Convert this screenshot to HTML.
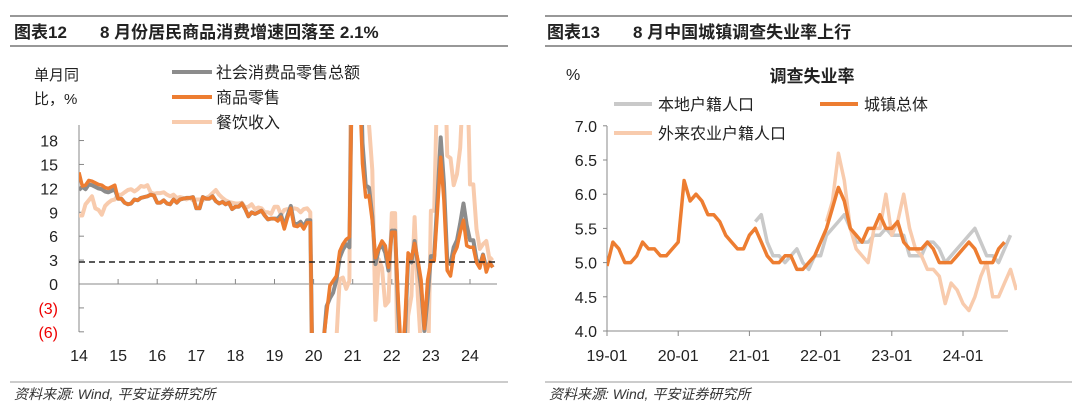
<!DOCTYPE html>
<html><head><meta charset="utf-8"><style>
html,body{margin:0;padding:0;background:#fff;width:1080px;height:420px;overflow:hidden}
svg{display:block}
svg text{font-family:"Liberation Sans","Noto Sans CJK SC",sans-serif}
</style></head><body>
<svg id="s" width="1080" height="420" xmlns="http://www.w3.org/2000/svg">
<defs>
<clipPath id="cl"><rect x="79" y="125" width="420" height="208"/></clipPath>
<clipPath id="cr"><rect x="607" y="120" width="410" height="215"/></clipPath>
</defs>
<line x1="10" y1="16" x2="508" y2="16" stroke="#777" stroke-width="1.5"/>
<line x1="10" y1="46" x2="508" y2="46" stroke="#777" stroke-width="1.5"/>
<line x1="545" y1="16" x2="1072" y2="16" stroke="#777" stroke-width="1.5"/>
<line x1="545" y1="46" x2="1072" y2="46" stroke="#777" stroke-width="1.5"/>
<text x="14" y="38" font-size="17" font-weight="bold" fill="#222">图表12</text>
<text x="100" y="38" font-size="17" font-weight="bold" fill="#222">8 月份居民商品消费增速回落至 2.1%</text>
<text x="547" y="38" font-size="17" font-weight="bold" fill="#222">图表13</text>
<text x="633" y="38" font-size="17" font-weight="bold" fill="#222">8 月中国城镇调查失业率上行</text>
<line x1="10" y1="382" x2="508" y2="382" stroke="#999" stroke-width="1"/>
<line x1="545" y1="382" x2="1072" y2="382" stroke="#999" stroke-width="1"/>
<text x="14" y="399" font-size="14" font-style="italic" fill="#333">资料来源: Wind, 平安证券研究所</text>
<text x="549" y="399" font-size="14" font-style="italic" fill="#333">资料来源: Wind, 平安证券研究所</text>
<text x="34" y="80" font-size="15" fill="#222">单月同</text>
<text x="34" y="104" font-size="15" fill="#222">比，%</text>
<line x1="172" y1="72" x2="212" y2="72" stroke="#8c8c8c" stroke-width="4"/>
<line x1="172" y1="97" x2="212" y2="97" stroke="#ed7d31" stroke-width="4"/>
<line x1="172" y1="122" x2="212" y2="122" stroke="#f8cbad" stroke-width="4"/>
<text x="216" y="78" font-size="16" fill="#222">社会消费品零售总额</text>
<text x="216" y="103" font-size="16" fill="#222">商品零售</text>
<text x="216" y="128" font-size="16" fill="#222">餐饮收入</text>
<text x="566" y="80" font-size="16" fill="#222">%</text>
<text x="812" y="82" font-size="17" font-weight="bold" fill="#222" text-anchor="middle">调查失业率</text>
<line x1="614" y1="104" x2="652" y2="104" stroke="#c9c9c9" stroke-width="4"/>
<line x1="820" y1="104" x2="858" y2="104" stroke="#ed7d31" stroke-width="4"/>
<line x1="614" y1="133" x2="652" y2="133" stroke="#f8cbad" stroke-width="4"/>
<text x="658" y="110" font-size="16" fill="#222">本地户籍人口</text>
<text x="864" y="110" font-size="16" fill="#222">城镇总体</text>
<text x="658" y="139" font-size="16" fill="#222">外来农业户籍人口</text>
<g id="g"></g>
</svg>
<script>
var g=document.getElementById('g'),h='';
function L(x1,y1,x2,y2,st){h+='<line x1="'+x1+'" y1="'+y1+'" x2="'+x2+'" y2="'+y2+'" '+st+'/>';}
function T(x,y,t,a,c){h+='<text x="'+x+'" y="'+y+'" font-size="16" text-anchor="'+a+'" fill="'+(c||'#222')+'">'+t+'</text>';}
function P(pts,col,w,clip){h+='<polyline clip-path="url(#'+clip+')" fill="none" stroke="'+col+'" stroke-width="'+w+'" stroke-linejoin="round" points="'+pts.join(' ')+'"/>';}
var lx=function(m){return 79+m*39.1/12},ly=function(v){return 284-v*7.97};
L(79,125,79,332,'stroke="#888"');L(79,284,497,284,'stroke="#888"');
[18,15,12,9,6,3,0,-3,-6].forEach(function(v){var y=ly(v);L(79,y,84,y,'stroke="#888"');T(58,y+6,v<0?'('+(-v)+')':v,'end',v<0?'#e00':'#222');});
for(var i=0;i<=10;i++){var x=lx(i*12);if(i>0)L(x,284,x,279,'stroke="#888"');T(x,361,14+i,'middle');}
var tot=[11.8,12.2,11.9,12.5,12.4,12.2,12.0,11.9,11.6,11.5,11.7,11.9,
10.7,10.7,10.2,10.0,10.1,10.6,10.5,10.8,10.9,11.0,11.2,11.1,
10.2,10.2,10.5,10.1,10.0,10.6,10.2,10.6,10.7,10.8,10.8,10.9,
9.5,9.5,10.9,10.7,10.7,11.0,10.4,10.1,10.3,10.0,10.2,9.4,
9.7,9.7,10.1,9.4,8.5,9.0,8.8,9.0,9.2,8.6,8.1,8.2,
8.2,8.2,8.7,7.2,8.6,9.8,7.6,7.5,7.8,7.2,8.0,8.0,
-20.5,-20.5,-15.8,-7.5,-2.8,-1.8,-1.1,0.5,3.3,4.3,5.0,4.6,
33.8,33.8,34.2,17.7,12.4,12.1,8.5,2.5,4.4,4.9,3.9,1.7,
6.7,6.7,-3.5,-11.1,-6.7,3.1,2.7,5.4,2.5,-0.5,-5.9,-1.8,
3.5,3.5,10.6,18.4,12.7,3.1,2.5,4.6,5.5,7.6,10.1,7.4,
5.5,5.5,3.1,2.3,3.7,2.0,2.7,2.1];
var com=tot.slice();
for(var i=0;i<72;i++)com[i]=tot[i]+(i<12?0.5:0)-(i>60?0.3:0);
com[0]=14;com[1]=12.3;
var c2=[-20.6,-20.6,-15.8,-7.1,-3.7,-0.2,0.4,1.0,4.1,5.0,5.6,5.9,
30.7,30.7,25.9,15.1,10.9,11.1,7.9,3.3,4.5,5.4,4.8,2.1,
6.5,6.5,-2.1,-9.7,-5.0,3.9,3.2,5.1,3.0,0.5,-5.6,0.5,
2.9,2.9,9.1,15.9,10.5,1.7,1.0,3.7,4.6,6.5,8.0,4.8,
4.6,4.6,2.7,2.0,3.6,1.5,2.7,2.1];
for(var i=0;i<c2.length;i++)com[72+i]=c2[i];
var cat=[8.6,8.6,10,10.5,11,9.5,9.3,8.7,9.8,10.2,10.5,10.6,
11.2,11.2,11.5,11.8,11.9,11.6,11.9,12.3,12.2,12.4,11.5,11.3,
11.4,11.4,11.5,11.2,11.0,11.2,10.8,10.9,10.8,10.6,10.8,10.5,
10.6,10.6,10.5,10.8,11.0,11.4,11.8,11.2,10.8,10.5,10.3,10.2,
10.1,10.1,10.2,9.6,9.7,10.0,9.4,9.6,9.5,9.0,9.0,8.8,
9.7,9.7,8.7,9.3,9.4,9.2,9.5,9.4,9.0,9.4,9.5,9.0,
-43,-43,-46.8,-31.1,-18.9,-15.2,-11,-7,0.6,0.8,-0.6,0.4,
68.9,68.9,91.6,46.4,26.6,20,14.3,-4.5,3.1,2,-2.7,-2.2,
8.9,8.9,-16.4,-22.7,-21.1,-4,-1.5,8.4,-1.7,-8.1,-8.4,-14.1,
9.2,9.2,26.3,43.8,35.1,16.1,15.8,12.4,13.8,17.1,25.8,30,
12.5,12.5,6.9,4.4,5.0,5.4,3.0,3.3];
function mk(a,fx,fy,st){var p=[];for(var i=0;i<a.length;i++)p.push(fx(i+(st||0)).toFixed(1)+','+fy(a[i]).toFixed(1));return p;}
P(mk(cat,lx,ly),'#f8cbad',4,'cl');
P(mk(tot,lx,ly),'#8c8c8c',4,'cl');
P(mk(com,lx,ly),'#ed7d31',3.5,'cl');
L(79,262,497,262,'stroke="#222" stroke-width="1.5" stroke-dasharray="6,4"');
var rx=function(m){return 607+m*71.2/12},ry=function(v){return 331-(v-4)*68.4};
L(607,126,607,331,'stroke="#888"');L(607,331,1008,331,'stroke="#888"');
[7,6.5,6,5.5,5,4.5,4].forEach(function(v){var y=ry(v);L(603,y,607,y,'stroke="#888"');T(597,y+6,v.toFixed(1),'end');});
for(var i=0;i<6;i++){var x=rx(i*12);L(x,331,x,336,'stroke="#888"');T(x,361,(19+i)+'-01','middle');}
var urb=[4.95,5.3,5.2,5.0,5.0,5.1,5.3,5.2,5.2,5.1,5.1,5.2,
5.3,6.2,5.9,6.0,5.9,5.7,5.7,5.6,5.4,5.3,5.2,5.2,
5.4,5.5,5.3,5.1,5.0,5.0,5.1,5.1,4.9,4.9,5.0,5.1,
5.3,5.5,5.8,6.1,5.9,5.5,5.4,5.3,5.5,5.5,5.7,5.5,
5.5,5.6,5.3,5.2,5.2,5.2,5.3,5.2,5.0,5.0,5.0,5.1,
5.2,5.3,5.2,5.0,5.0,5.0,5.2,5.3];
var loc=[5.6,5.7,5.3,5.1,5.1,5.0,5.1,5.2,5.0,4.9,5.1,5.1,
5.4,5.5,5.6,5.7,5.5,5.3,5.3,5.3,5.4,5.4,5.5,5.4,
5.4,5.4,5.1,5.1,5.1,5.3,5.3,5.2,5.0,5.1,5.2,5.3,
5.4,5.5,5.3,5.1,5.1,5.0,5.2,5.4];
var mig=[5.6,5.9,6.6,6.2,5.5,5.2,5.1,5.0,5.5,5.5,6.0,5.4,
5.6,6.0,5.5,5.2,5.1,4.9,4.9,4.8,4.4,4.7,4.6,4.4,
4.3,4.5,4.8,5.0,4.5,4.5,4.7,4.9,4.6];
P(mk(loc,rx,ry,25),'#c9c9c9',3.5,'cr');
P(mk(mig,rx,ry,37),'#f8cbad',3.5,'cr');
P(mk(urb,rx,ry),'#ed7d31',3.5,'cr');
g.innerHTML=h;
</script>
</body></html>
